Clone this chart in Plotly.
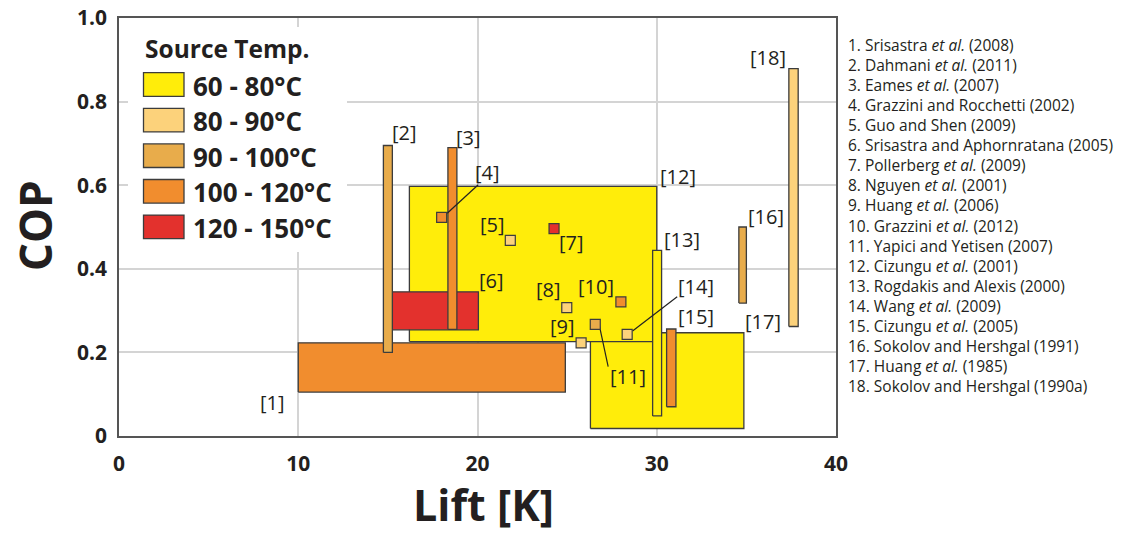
import plotly.graph_objects as go

# ---- data ----
temp_classes = ["60 - 80°C", "80 - 90°C", "90 - 100°C", "100 - 120°C", "120 - 150°C"]
class_colors = ["#FFED0A", "#FCD27B", "#E8AC4B", "#F18D2E", "#E3312D"]

# studies shown as ranges (lift range x COP range)
box_ids = [17, 12, 1, 6, 2, 3, 13, 15, 16, 18]
box_lift_min = [26.3, 16.2, 10.0, 15.0, 14.75, 18.35, 29.77, 30.55, 34.58, 37.37]
box_lift_max = [34.86, 30.0, 24.9, 20.05, 15.25, 18.85, 30.27, 31.07, 35.0, 37.89]
box_cop_min = [0.018, 0.226, 0.105, 0.254, 0.20, 0.255, 0.048, 0.07, 0.318, 0.262]
box_cop_max = [0.247, 0.597, 0.223, 0.345, 0.695, 0.69, 0.444, 0.256, 0.50, 0.879]
box_class = [0, 0, 3, 4, 2, 3, 0, 3, 2, 1]

# studies shown as single points
pt_ids = [4, 5, 7, 8, 9, 10, 11, 14]
pt_lift = [18.0, 21.83, 24.27, 24.98, 25.78, 28.0, 26.57, 28.35]
pt_cop = [0.523, 0.468, 0.496, 0.307, 0.223, 0.321, 0.267, 0.243]
pt_class = [3, 1, 4, 1, 1, 3, 2, 1]

references = [
    "Srisastra <i>et al.</i> (2008)",
    "Dahmani <i>et al.</i> (2011)",
    "Eames <i>et al.</i> (2007)",
    "Grazzini and Rocchetti (2002)",
    "Guo and Shen (2009)",
    "Srisastra and Aphornratana (2005)",
    "Pollerberg <i>et al.</i> (2009)",
    "Nguyen <i>et al.</i> (2001)",
    "Huang <i>et al.</i> (2006)",
    "Grazzini <i>et al.</i> (2012)",
    "Yapici and Yetisen (2007)",
    "Cizungu <i>et al.</i> (2001)",
    "Rogdakis and Alexis (2000)",
    "Wang <i>et al.</i> (2009)",
    "Cizungu <i>et al.</i> (2005)",
    "Sokolov and Hershgal (1991)",
    "Huang <i>et al.</i> (1985)",
    "Sokolov and Hershgal (1990a)",
]

x_ticks = [0, 10, 20, 30, 40]
y_ticks = [0, 0.2, 0.4, 0.6, 0.8, 1.0]
y_tick_text = ["0", "0.2", "0.4", "0.6", "0.8", "1.0"]

# ---- label placement (layout) ----
label_pos = {
    1: (8.55, 0.08), 2: (15.95, 0.725), 3: (19.52, 0.715), 4: (20.58, 0.63),
    5: (20.86, 0.505), 6: (20.8, 0.373), 7: (25.26, 0.462), 8: (23.98, 0.35),
    9: (24.76, 0.261), 10: (26.6, 0.357), 11: (28.39, 0.142), 12: (31.18, 0.62),
    13: (31.4, 0.471), 14: (32.2, 0.357), 15: (32.2, 0.286), 16: (36.08, 0.525),
    17: (35.92, 0.274), 18: (36.2, 0.905),
}
leaders = [((18.31, 0.533), (20.04, 0.601)),
           ((26.79, 0.266), (27.29, 0.166)),
           ((28.65, 0.251), (31.14, 0.333))]

FONT = "Open Sans"
TXT = "#231F20"
EDGE = "#3C3C3C"

W, H = 1122, 533
PL, PR, PT, PB = 119, 836, 18, 436          # plot area in page pixels
L, T, R, B = PL, PT, W - PR, H - PB
pw, ph = PR - PL, PB - PT


def px(xp):
    return (xp - PL) / pw


def py(yp):
    return (PB - yp) / ph


fig = go.Figure()
shapes = []
annotations = []

# range boxes as filled traces
for i, bid in enumerate(box_ids):
    x0, x1 = box_lift_min[i], box_lift_max[i]
    y0, y1 = box_cop_min[i], box_cop_max[i]
    fig.add_trace(go.Scatter(
        x=[x0, x1, x1, x0, x0], y=[y0, y0, y1, y1, y0], mode="lines", fill="toself",
        fillcolor=class_colors[box_class[i]], line=dict(color=EDGE, width=1.3),
        showlegend=False, hoverinfo="skip"))

# leader lines
for (a, b) in leaders:
    fig.add_trace(go.Scatter(x=[a[0], b[0]], y=[a[1], b[1]], mode="lines",
                             line=dict(color="#222222", width=1.2), showlegend=False, hoverinfo="skip"))

# single points
fig.add_trace(go.Scatter(
    x=pt_lift, y=pt_cop, mode="markers", showlegend=False, hoverinfo="skip",
    marker=dict(symbol="square", size=10, color=[class_colors[c] for c in pt_class],
                line=dict(color=EDGE, width=1.2)),
))

for k, (lx, ly) in label_pos.items():
    annotations.append(dict(x=lx, y=ly, xref="x", yref="y", text=f"[{k}]", showarrow=False,
                            font=dict(family=FONT, size=20, color=TXT),
                            xanchor="center", yanchor="middle"))

# manual legend
shapes.append(dict(type="rect", xref="paper", yref="paper", x0=px(128), x1=px(347),
                   y0=py(252), y1=py(27), fillcolor="white", line=dict(width=0), layer="above"))
annotations.append(dict(x=px(143), y=py(48), xref="paper", yref="paper", text="<b>Source Temp.</b>",
                        showarrow=False, xanchor="left", yanchor="middle",
                        font=dict(family=FONT, size=24.5, color=TXT)))
centers = [84.5, 120.1, 155.7, 191.3, 226.9]
for i, name in enumerate(temp_classes):
    cy = centers[i]
    shapes.append(dict(type="rect", xref="paper", yref="paper", x0=px(143.5), x1=px(184),
                       y0=py(cy + 11.8), y1=py(cy - 11.8), fillcolor=class_colors[i],
                       line=dict(color=EDGE, width=1.3), layer="above"))
    annotations.append(dict(x=px(191), y=py(cy + 1), xref="paper", yref="paper", text=f"<b>{name}</b>",
                            showarrow=False, xanchor="left", yanchor="middle",
                            font=dict(family=FONT, size=26, color=TXT)))

# reference list
for i, ref in enumerate(references):
    yp = 45 + 20.06 * i
    annotations.append(dict(x=px(846), y=py(yp), xref="paper", yref="paper",
                            text=f"{i + 1}. {ref}", showarrow=False, xanchor="left", yanchor="middle",
                            font=dict(family=FONT, size=15.5, color=TXT)))

# axis titles
annotations.append(dict(x=px(483), y=py(504), xref="paper", yref="paper", text="<b>Lift [K]</b>",
                        showarrow=False, xanchor="center", yanchor="middle",
                        font=dict(family=FONT, size=43, color=TXT)))
annotations.append(dict(x=px(35), y=py(226), xref="paper", yref="paper", text="<b>COP</b>",
                        showarrow=False, xanchor="center", yanchor="middle", textangle=-90,
                        font=dict(family=FONT, size=44, color=TXT)))

fig.update_layout(
    width=W, height=H,
    margin=dict(l=L, r=R, t=T, b=B, pad=0),
    paper_bgcolor="white", plot_bgcolor="white",
    shapes=shapes, annotations=annotations,
    showlegend=False,
    xaxis=dict(range=[0, 40], tickvals=x_ticks, ticktext=[str(v) for v in x_ticks],
               showgrid=True, gridcolor="#D4D4D4", gridwidth=1.5, zeroline=False,
               showline=True, linecolor="#555555", linewidth=1.5, mirror=True, ticks="",
               ticklabelstandoff=8, automargin=False,
               tickfont=dict(family=FONT, size=21, color=TXT, weight="bold")),
    yaxis=dict(range=[0, 1.0], tickvals=y_ticks, ticktext=y_tick_text,
               showgrid=True, gridcolor="#D4D4D4", gridwidth=1.5, zeroline=False,
               showline=True, linecolor="#555555", linewidth=1.5, mirror=True, ticks="",
               ticklabelstandoff=6, automargin=False,
               tickfont=dict(family=FONT, size=21, color=TXT, weight="bold")),
)

# remove the default 8px page margin so the figure fills the window exactly
fig.write_html("out.html", config={"displayModeBar": False},
               post_script="document.body.style.margin='0';")
